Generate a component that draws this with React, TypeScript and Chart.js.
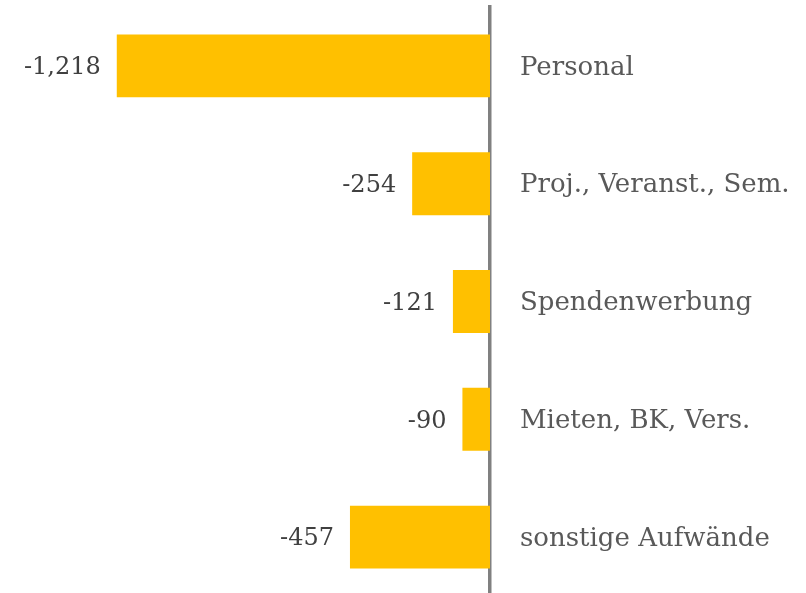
import { useEffect, useRef } from "react";
import { Chart, registerables } from "chart.js";

Chart.register(...registerables);

const categories = [
  "Personal",
  "Proj., Veranst., Sem.",
  "Spendenwerbung",
  "Mieten, BK, Vers.",
  "sonstige Aufwände",
];
const values = [-1218, -254, -121, -90, -457];

const valueLabels = {
  id: "valueLabels",
  afterDatasetsDraw(chart: any) {
    const ctx = chart.ctx;
    const meta = chart.getDatasetMeta(0);
    ctx.save();
    ctx.font = "24px 'DejaVu Serif'";
    ctx.fillStyle = "#404040";
    ctx.textAlign = "right";
    ctx.textBaseline = "middle";
    meta.data.forEach((bar: any, i: number) => {
      const v = chart.data.datasets[0].data[i] as number;
      ctx.fillText(v.toLocaleString("en-US"), bar.x - 16, bar.y + 2);
    });
    ctx.restore();
  },
};

export default function App() {
  const ref = useRef<HTMLCanvasElement>(null);
  useEffect(() => {
    if (!ref.current) return;
    const chart = new Chart(ref.current, {
      type: "bar",
      data: {
        labels: categories,
        datasets: [
          {
            data: values,
            backgroundColor: "#FFC000",
            barPercentage: 0.534,
            categoryPercentage: 1,
          },
        ],
      },
      options: {
        indexAxis: "y",
        animation: false,
        responsive: true,
        maintainAspectRatio: false,
        layout: { padding: { left: 61, top: 7, bottom: 4, right: 0 } },
        plugins: { legend: { display: false }, tooltip: { enabled: false } },
        scales: {
          x: { display: false, min: -1400, max: 0 },
          y: {
            position: "right",
            grid: { display: false, drawTicks: false },
            border: { display: true, color: "#808080", width: 3.5 },
            ticks: {
              padding: 30,
              labelOffset: 2,
              color: "#595959",
              font: { family: "'DejaVu Serif'", size: 26 },
            },
            afterFit: (s: any) => {
              s.width = 316;
              s.paddingTop = 0;
              s.paddingBottom = 0;
            },
          },
        },
      },
      plugins: [valueLabels],
    });
    return () => chart.destroy();
  }, []);
  return (
    <div style={{ position: "fixed", left: 0, top: 0, width: 806, height: 600 }}>
      <canvas ref={ref} />
    </div>
  );
}
